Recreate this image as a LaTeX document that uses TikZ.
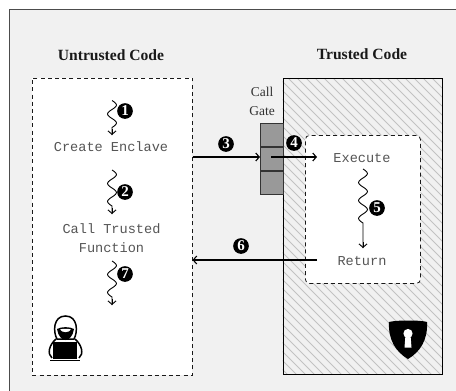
\documentclass[tikz,border=0pt]{standalone}
\usepackage{fontspec}
\setmainfont{Liberation Serif}
\setmonofont{Liberation Mono}
\usetikzlibrary{arrows.meta,calc}
\definecolor{bgc}{HTML}{F1F1F1}
\definecolor{gatec}{HTML}{999999}
\definecolor{hatchc}{HTML}{C2C2C2}
\definecolor{codec}{HTML}{555555}
\tikzset{
  title/.style={font=\fontsize{15.6}{17}\selectfont\bfseries, text=black!90},
  codetext/.style={font=\fontsize{13.6}{19.5}\ttfamily, text=codec, align=center},
  gatetext/.style={font=\fontsize{13.5}{19}\selectfont, text=black!80, align=center},
  dashbox/.style={draw=black!90, fill=white, line width=0.8pt, dash pattern=on 4pt off 3.2pt},
  conn/.style={draw=black, line width=1.1pt, -{Straight Barb[length=3.5pt,width=8pt]}},
  squig/.style={draw=black, line width=0.9pt, line join=round},
  badge/.style={circle, fill=black, inner sep=0pt, minimum size=15.7pt, text=white, font=\fontsize{15}{15}\selectfont\bfseries},
}
\newcommand{\wiggle}[4]{% x, top, periods, bottom
  \draw[squig] plot[domain=0:#3, samples=60, smooth] ({#1+4.4*sin(360*\x)},{#2+18*\x}) -- (#1,#4);
  \draw[conn,line width=0.9pt] (#1,#4-6) -- (#1,#4);
}
\begin{document}
\begin{tikzpicture}[x=1pt,y=-1pt]
\useasboundingbox (0,0) rectangle (456,391);
\fill[white] (0,0) rectangle (456,391);
\draw[fill=bgc,draw=black!70,line width=0.9pt] (9,9) rectangle (460,395);
% titles
\node[title] (tu) at (111,55) {Untrusted Code};
\node[title] (tt) at (362,54) {Trusted Code};
% untrusted
\node[dashbox, minimum width=160pt, minimum height=297pt, anchor=north west] (ubox) at (32,77.5) {};
% trusted with hatch
\fill[bgc] (282.5,78) rectangle (442,374);
\begin{scope}
\clip (282.5,78) rectangle (442,374);
\foreach \k in {-300,-291,...,165}
  \draw[hatchc,line width=1pt] (\k+282,78) -- (\k+282+300,378);
\end{scope}
\node[draw=black,line width=0.9pt,minimum width=159.5pt,minimum height=296pt,anchor=north west] (tbox) at (282.5,78) {};
\node[dashbox, rounded corners=4pt, minimum width=115pt, minimum height=148pt, anchor=north west] (ibox) at (305,135) {};
% gate
\node[draw=black!80,fill=gatec,line width=0.8pt,minimum width=22.5pt,minimum height=23pt,anchor=north west] (g1) at (260,123) {};
\node[draw=black!80,fill=gatec,line width=0.8pt,minimum width=22.5pt,minimum height=23pt,anchor=north] (g2) at (g1.south) {};
\node[draw=black!80,fill=gatec,line width=0.8pt,minimum width=22.5pt,minimum height=23pt,anchor=north] (g3) at (g2.south) {};
\node[gatetext] (gt) at (262,101) {Call\\Gate};
% code text
\node[codetext] (ce) at (111,147) {Create Enclave};
\node[codetext] (ct) at (111.5,238) {Call Trusted\\Function};
\node[codetext] (ex) at (362,158) {Execute};
\node[codetext] (re) at (362,261) {Return};
% squiggles
\wiggle{112}{100.5}{1.5}{135}
\wiggle{112}{170}{2}{214}
\wiggle{112}{261}{2}{305}
\wiggle{363}{169}{3}{248}
% connectors
\coordinate (a3) at (192.5,157); \coordinate (b3) at (260,157);
\coordinate (a4) at (271,157); \coordinate (b4) at (317,157);
\coordinate (a6) at (317,260); \coordinate (b6) at (192.5,260);
\draw[conn] (a3) -- (b3);
\draw[conn] (a4) -- (b4);
\draw[conn] (a6) -- (b6);
% badges
\node[badge] (n1) at (125,111) {1};
\node[badge] (n2) at (125,192) {2};
\node[badge] (n3) at (226,144) {3};
\node[badge] (n4) at (294,143) {4};
\node[badge] (n5) at (377,208) {5};
\node[badge] (n6) at (241,246) {6};
\node[badge] (n7) at (125,274) {7};
% shield
\fill[black] (389,322) .. controls (396,320) and (421,320) .. (427,322)
  .. controls (428,340) and (420,352) .. (408,359)
  .. controls (396,352) and (388,340) .. (389,322) -- cycle;
\fill[white] (408,333.5) circle (4.6pt);
\fill[white] (405.5,335) -- (410.5,335) -- (411.5,347.5) -- (404.5,347.5) -- cycle;
% hacker
\begin{scope}
\draw[black,line width=1.5pt,fill=white] (65.5,316) .. controls (53,316) and (53,332) .. (57,339) -- (74,339) .. controls (78,332) and (78,316) .. (65.5,316) -- cycle;
\fill[black] (57,329) .. controls (61,326.5) and (70,326.5) .. (74,329) .. controls (73,336) and (69,340) .. (65.5,340) .. controls (62,340) and (58,336) .. (57,329) -- cycle;
\fill[white] (60,329.5) .. controls (63,328.5) and (68,328.5) .. (71,329.5) .. controls (69,333) and (62,333) .. (60,329.5) -- cycle;
\draw[black,line width=1.5pt] (56,339) .. controls (49,345) and (47,354) .. (52,358) (75,339) .. controls (82,345) and (84,354) .. (79,358);
\fill[black] (53,342) rectangle (77,358.5);
\draw[black,line width=1.6pt] (50,360.5) -- (80,360.5);
\end{scope}
\end{tikzpicture}
\end{document}
